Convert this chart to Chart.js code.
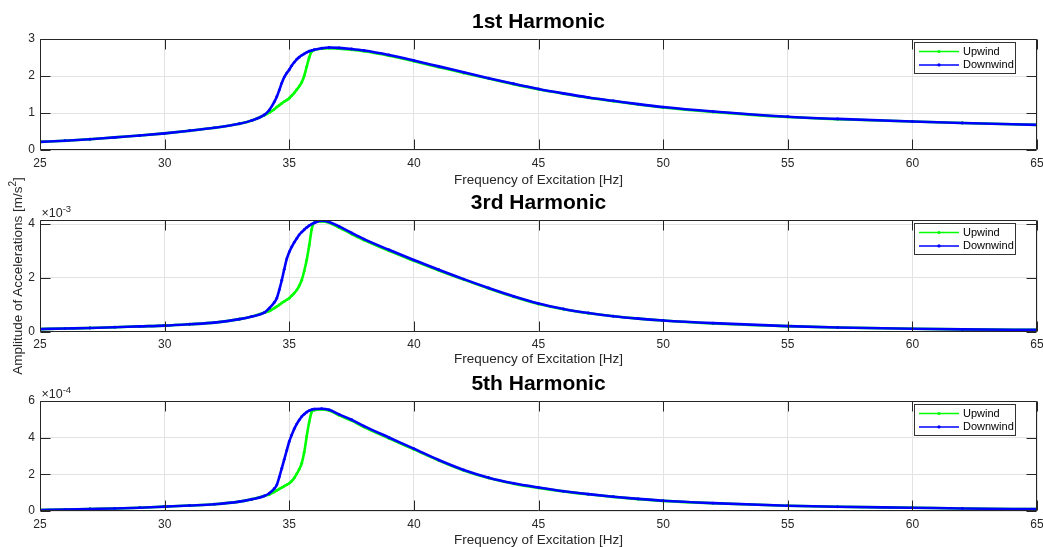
<!DOCTYPE html>
<html>
<head>
<meta charset="utf-8">
<script src="https://cdn.jsdelivr.net/npm/chart.js@4.4.1/dist/chart.umd.min.js"></script>
<style>
  html, body { margin: 0; padding: 0; background: #fff; }
  #wrap { position: relative; width: 1043px; height: 547px; overflow: hidden;
          font-family: "Liberation Sans", Arial, Helvetica, sans-serif; }
  #wrap canvas { position: absolute; left: 0; }
  #ylab { position: absolute; left: -132px; top: 268px; width: 300px; height: 16px;
          line-height: 16px; text-align: center; font-size: 13.5px; color: #262626;
          transform: rotate(-90deg); white-space: nowrap; }
  #ylab sup { font-size: 10px; vertical-align: 6px; line-height: 0; }
</style>
</head>
<body>
<div id="wrap">
  <canvas id="h1" width="1043" height="190" style="top:0px"></canvas>
  <canvas id="h3" width="1043" height="180" style="top:190px"></canvas>
  <canvas id="h5" width="1043" height="178" style="top:370px"></canvas>
  <div id="ylab">Amplitude of Accelerations [m/s<sup>2</sup>]</div>
</div>
<script>
// excitation frequency [Hz], shared by all harmonics
var freq = [25, 26, 27, 28, 29, 30, 31, 32, 33, 33.5,
            34, 34.2, 34.4, 34.5, 34.6, 34.7, 34.8, 34.9, 35, 35.1,
            35.2, 35.3, 35.4, 35.5, 35.6, 35.7, 35.8, 35.9, 36, 36.3,
            36.6, 37, 37.5, 38, 39, 40, 41, 42, 43, 44,
            45, 46, 47, 48, 49, 50, 52, 55, 57, 60,
            62, 65];

// 1st harmonic [m/s^2]
var h1Up   = [0.22, 0.25, 0.29, 0.34, 0.39, 0.45, 0.52, 0.60, 0.71, 0.80,
              0.94, 1.01, 1.10, 1.16, 1.21, 1.26, 1.31, 1.35, 1.40, 1.47,
              1.54, 1.63, 1.72, 1.83, 2.00, 2.25, 2.50, 2.66, 2.70, 2.74,
              2.75, 2.74, 2.71, 2.67, 2.55, 2.40, 2.24, 2.08, 1.93, 1.78,
              1.64, 1.52, 1.41, 1.32, 1.23, 1.15, 1.03, 0.89, 0.83, 0.77,
              0.73, 0.68];
var h1Down = [0.22, 0.25, 0.29, 0.34, 0.39, 0.45, 0.52, 0.60, 0.71, 0.80,
              0.95, 1.08, 1.30, 1.44, 1.62, 1.81, 1.97, 2.08, 2.17, 2.28,
              2.37, 2.45, 2.51, 2.56, 2.60, 2.64, 2.67, 2.69, 2.71, 2.75,
              2.77, 2.76, 2.73, 2.69, 2.57, 2.42, 2.26, 2.10, 1.94, 1.79,
              1.65, 1.53, 1.42, 1.33, 1.24, 1.16, 1.04, 0.90, 0.84, 0.77,
              0.73, 0.68];

// 3rd harmonic [x 1e-3 m/s^2]
var h3Up   = [0.09, 0.11, 0.13, 0.16, 0.19, 0.22, 0.27, 0.33, 0.46, 0.56,
              0.70, 0.76, 0.87, 0.93, 0.99, 1.06, 1.12, 1.18, 1.24, 1.33,
              1.43, 1.54, 1.70, 1.91, 2.25, 2.66, 3.20, 3.80, 4.05, 4.10,
              4.05, 3.87, 3.63, 3.40, 3.00, 2.63, 2.27, 1.93, 1.60, 1.29,
              1.02, 0.83, 0.68, 0.57, 0.48, 0.41, 0.30, 0.20, 0.15, 0.10,
              0.08, 0.06];
var h3Down = [0.09, 0.11, 0.13, 0.16, 0.19, 0.22, 0.27, 0.33, 0.46, 0.56,
              0.70, 0.87, 1.08, 1.24, 1.55, 1.91, 2.32, 2.70, 2.96, 3.15,
              3.32, 3.46, 3.60, 3.70, 3.79, 3.87, 3.94, 4.00, 4.04, 4.12,
              4.08, 3.91, 3.67, 3.44, 3.04, 2.66, 2.30, 1.95, 1.62, 1.31,
              1.04, 0.84, 0.69, 0.57, 0.48, 0.41, 0.31, 0.20, 0.15, 0.10,
              0.08, 0.06];

// 5th harmonic [x 1e-4 m/s^2]
var h5Up   = [0.05, 0.08, 0.11, 0.14, 0.18, 0.24, 0.30, 0.37, 0.51, 0.64,
              0.82, 0.90, 1.04, 1.12, 1.20, 1.28, 1.36, 1.43, 1.51, 1.63,
              1.80, 2.02, 2.28, 2.60, 3.20, 4.06, 4.85, 5.40, 5.50, 5.54,
              5.48, 5.22, 4.93, 4.58, 3.96, 3.36, 2.75, 2.21, 1.80, 1.49,
              1.26, 1.07, 0.91, 0.77, 0.65, 0.55, 0.42, 0.29, 0.23, 0.18,
              0.14, 0.10];
var h5Down = [0.05, 0.08, 0.11, 0.14, 0.18, 0.24, 0.30, 0.37, 0.51, 0.64,
              0.82, 0.97, 1.22, 1.42, 1.85, 2.33, 2.82, 3.30, 3.79, 4.15,
              4.48, 4.74, 4.96, 5.15, 5.28, 5.39, 5.47, 5.53, 5.56, 5.58,
              5.52, 5.27, 4.98, 4.63, 4.01, 3.40, 2.78, 2.24, 1.82, 1.51,
              1.28, 1.08, 0.92, 0.78, 0.66, 0.56, 0.43, 0.29, 0.23, 0.18,
              0.14, 0.10];

var seriesNames = ['Upwind', 'Downwind'];
var titles = ['1st Harmonic', '3rd Harmonic', '5th Harmonic'];
var exponents = [null, '-3', '-4'];
var yMax = [3, 4.15, 6];
var yStep = [1, 2, 2];
var xMin = 25, xMax = 65, xStep = 5;

var FONT = '"Liberation Sans", Arial, Helvetica, sans-serif';
var INK = '#262626';
var GREEN = '#00ff00', BLUE = '#0000ff';

// panel geometry inside each canvas
var panels = [
  { id: 'h1', up: h1Up, down: h1Down, padTop: 39, xHeight: 40,   titlePad: 2 },
  { id: 'h3', up: h3Up, down: h3Down, padTop: 30, xHeight: 38.5, titlePad: 3 },
  { id: 'h5', up: h5Up, down: h5Down, padTop: 31, xHeight: 37,   titlePad: 0 }
];

function pts(ys) {
  return freq.map(function (f, i) { return { x: f, y: ys[i] }; });
}

// axes frame with inward ticks, title, exponent and legend box
var matlabAxes = {
  id: 'matlabAxes',
  afterDatasetsDraw: function (chart, args, opts) {
    var ctx = chart.ctx, a = chart.chartArea;
    var L = Math.round(a.left) + 0.5, R = Math.round(a.right) - 0.5;
    var T = Math.round(a.top) + 0.5, B = Math.round(a.bottom) - 0.5;
    ctx.save();
    ctx.strokeStyle = INK;
    ctx.lineWidth = 1;
    ctx.beginPath();
    ctx.rect(L, T, R - L, B - T);
    chart.scales.x.ticks.forEach(function (t) {
      var px = Math.round(chart.scales.x.getPixelForValue(t.value)) + 0.5;
      ctx.moveTo(px, B); ctx.lineTo(px, B - 10);
      ctx.moveTo(px, T); ctx.lineTo(px, T + 10);
    });
    chart.scales.y.ticks.forEach(function (t) {
      var py = Math.round(chart.scales.y.getPixelForValue(t.value)) + 0.5;
      ctx.moveTo(L, py); ctx.lineTo(L + 10, py);
      ctx.moveTo(R, py); ctx.lineTo(R - 10, py);
    });
    ctx.stroke();

    // title
    ctx.fillStyle = '#000';
    ctx.font = 'bold 21px ' + FONT;
    ctx.textAlign = 'center';
    ctx.textBaseline = 'middle';
    ctx.fillText(opts.title, (a.left + a.right) / 2, a.top - 16.5);

    // axis multiplier
    if (opts.exponent) {
      ctx.fillStyle = INK;
      ctx.textAlign = 'left';
      ctx.font = '12.5px ' + FONT;
      ctx.fillText('\u00d710', a.left + 1.5, a.top - 6.5);
      var w = ctx.measureText('\u00d710').width;
      ctx.font = '9.5px ' + FONT;
      ctx.fillText(opts.exponent, a.left + 1.5 + w, a.top - 10.5);
    }

    // legend
    var bx = Math.round(a.right) - 122.5, by = Math.round(a.top) + 3.5;
    var bw = 101, bh = 31;
    ctx.fillStyle = '#fff';
    ctx.fillRect(bx, by, bw, bh);
    ctx.strokeStyle = '#333';
    ctx.lineWidth = 1;
    ctx.strokeRect(bx, by, bw, bh);
    ctx.font = '11px ' + FONT;
    ctx.textBaseline = 'middle';
    ctx.textAlign = 'left';
    [GREEN, BLUE].forEach(function (c, i) {
      var ry = by + 9 + i * 13.4;
      ctx.strokeStyle = c;
      ctx.lineWidth = 1.5;
      ctx.beginPath();
      ctx.moveTo(bx + 4.5, ry); ctx.lineTo(bx + 44.5, ry);
      ctx.stroke();
      ctx.fillStyle = c;
      ctx.beginPath();
      ctx.arc(bx + 24.5, ry, 1.6, 0, Math.PI * 2);
      ctx.fill();
      ctx.fillStyle = '#000';
      ctx.fillText(seriesNames[i], bx + 48.5, ry + 0.5);
    });
    ctx.restore();
  }
};

panels.forEach(function (p, k) {
  new Chart(document.getElementById(p.id), {
    type: 'line',
    data: {
      datasets: [{
        label: seriesNames[0],
        data: pts(p.up),
        borderColor: GREEN,
        backgroundColor: GREEN,
        borderWidth: 2.6,
        pointRadius: 1.4,
        pointBorderWidth: 0,
        cubicInterpolationMode: 'monotone',
        order: 2
      }, {
        label: seriesNames[1],
        data: pts(p.down),
        borderColor: BLUE,
        backgroundColor: BLUE,
        borderWidth: 2.6,
        pointRadius: 1.4,
        pointBorderWidth: 0,
        cubicInterpolationMode: 'monotone',
        order: 1
      }]
    },
    options: {
      responsive: false,
      animation: false,
      devicePixelRatio: 1,
      layout: { padding: { top: p.padTop, right: 6, bottom: 0, left: 0 } },
      plugins: {
        legend: { display: false },
        tooltip: { enabled: false },
        matlabAxes: { title: titles[k], exponent: exponents[k] }
      },
      scales: {
        x: {
          type: 'linear',
          min: xMin, max: xMax,
          afterFit: function (s) {
            s.height = p.xHeight;
            s.paddingLeft = 0;
            s.paddingRight = 0;
          },
          ticks: { stepSize: xStep, includeBounds: false, padding: 6, maxRotation: 0,
                   color: INK, font: { family: FONT, size: 12 } },
          grid: { color: '#e3e3e3', drawTicks: false },
          border: { display: false },
          title: { display: true, text: 'Frequency of Excitation [Hz]', color: INK,
                   padding: { top: 0, bottom: p.titlePad }, font: { family: FONT, size: 13.5 } }
        },
        y: {
          min: 0, max: yMax[k],
          afterFit: function (s) {
            s.width = 40;
            s.paddingTop = 0;
            s.paddingBottom = 0;
          },
          ticks: { stepSize: yStep[k], includeBounds: false, padding: 5,
                   color: INK, font: { family: FONT, size: 12 } },
          grid: { color: '#e3e3e3', drawTicks: false },
          border: { display: false }
        }
      }
    },
    plugins: [matlabAxes]
  });
});
</script>
</body>
</html>
